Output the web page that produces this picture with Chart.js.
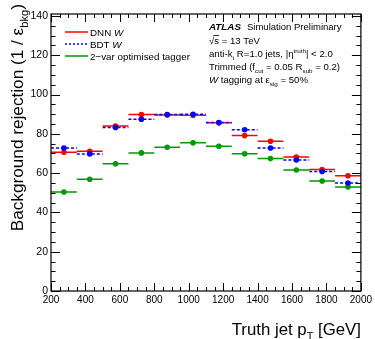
<!DOCTYPE html>
<html>
<head>
<meta charset="utf-8">
<script src="https://cdn.jsdelivr.net/npm/chart.js@4.4.1/dist/chart.umd.min.js"></script>
<style>
  html, body { margin: 0; padding: 0; background: #fff; }
  #wrap { width: 375px; height: 339px; }
</style>
</head>
<body>
<div id="wrap"><canvas id="chart" width="375" height="339"></canvas></div>
<script>
// ─── Data ───────────────────────────────
const binEdges = [200, 350, 500, 650, 800, 950, 1100, 1250, 1400, 1550, 1700, 1850, 2000];
const dnnW   = [70.6, 71.1, 84.0, 89.8, 89.6, 89.4, 85.6, 79.1, 76.2, 68.2, 61.8, 58.7];
const bdtW   = [72.8, 69.8, 83.2, 87.4, 89.8, 90.0, 85.8, 82.1, 72.8, 66.7, 60.8, 55.0];
const twoVar = [50.4, 56.9, 64.8, 70.3, 73.2, 75.4, 73.7, 69.9, 67.4, 61.6, 56.0, 53.0];

const xTickLabels = [200, 400, 600, 800, 1000, 1200, 1400, 1600, 1800, 2000];
const yTickLabels = [0, 20, 40, 60, 80, 100, 120, 140];

const RED = "#ff0000";
const BLUE = "#0000ff";
const GREEN = "#009900";
const FONT = "'Liberation Sans', Arial, Helvetica, sans-serif";

// horizontal bin segments, broken between bins
function stepData(values) {
  return values.flatMap((v, i) => [
    { x: binEdges[i], y: v },
    { x: binEdges[i + 1], y: v },
    { x: binEdges[i + 1], y: null },
  ]);
}
function centerData(values) {
  return values.map((v, i) => ({ x: (binEdges[i] + binEdges[i + 1]) / 2, y: v }));
}

// ─── Rich text helper (italic / sub / sup) ──
function richWidth(ctx, parts, size) {
  let w = 0;
  parts.forEach(p => {
    const s = p.sub || p.sup ? size * 0.65 : size;
    ctx.font = `${p.style || ""} ${s}px ${FONT}`;
    w += ctx.measureText(p.t).width;
  });
  return w;
}
function drawRich(ctx, x, y, parts, size) {
  parts.forEach(p => {
    const s = p.sub || p.sup ? size * 0.65 : size;
    ctx.font = `${p.style || ""} ${s}px ${FONT}`;
    const dy = p.sub ? size * 0.3 : p.sup ? -size * 0.4 : 0;
    ctx.fillText(p.t, x, y + dy);
    x += ctx.measureText(p.t).width;
  });
  return x;
}

// ─── ROOT style frame, ticks, legend, labels ──
const atlasPlugin = {
  id: "atlasFrame",
  afterDraw(chart) {
    const ctx = chart.ctx;
    const { left, right, top, bottom } = chart.chartArea;
    const xs = chart.scales.x;
    const ys = chart.scales.y;

    ctx.save();
    ctx.strokeStyle = "#000";
    ctx.lineWidth = 1.2;
    ctx.strokeRect(left, top, right - left, bottom - top);

    ctx.lineWidth = 1;
    ctx.beginPath();
    for (let v = xs.min; v <= xs.max; v += 50) {
      const px = Math.round(xs.getPixelForValue(v)) + 0.5;
      const len = v % 200 === 0 ? 8 : 4;
      ctx.moveTo(px, bottom); ctx.lineTo(px, bottom - len);
      ctx.moveTo(px, top); ctx.lineTo(px, top + len);
    }
    for (let v = 0; v <= ys.max; v += 5) {
      const py = Math.round(ys.getPixelForValue(v)) + 0.5;
      const len = v % 20 === 0 ? 9 : 4.5;
      ctx.moveTo(left, py); ctx.lineTo(left + len, py);
      ctx.moveTo(right, py); ctx.lineTo(right - len, py);
    }
    ctx.stroke();

    // legend
    const legend = [
      { color: RED, dash: [], parts: [{ t: "DNN " }, { t: "W", style: "italic" }] },
      { color: BLUE, dash: [2, 2], parts: [{ t: "BDT " }, { t: "W", style: "italic" }] },
      { color: GREEN, dash: [], parts: [{ t: "2\u2212var optimised tagger" }] },
    ];
    ctx.fillStyle = "#000";
    ctx.textBaseline = "alphabetic";
    legend.forEach((l, i) => {
      const y = 32 + i * 12;
      ctx.strokeStyle = l.color;
      ctx.lineWidth = 1.5;
      ctx.setLineDash(l.dash);
      ctx.beginPath();
      ctx.moveTo(65, y); ctx.lineTo(88, y);
      ctx.stroke();
      ctx.setLineDash([]);
      drawRich(ctx, 90, y + 4, l.parts, 9.8);
    });

    // ATLAS label block
    const ax = 209, fs = 9.6;
    ctx.font = `italic bold 9.8px ${FONT}`;
    ctx.fillText("ATLAS", ax, 30);
    ctx.font = `9.5px ${FONT}`;
    ctx.fillText("Simulation Preliminary", 247, 30);

    ctx.font = `${fs}px ${FONT}`;
    const rootW = ctx.measureText("\u221A").width;
    ctx.fillText("\u221As = 13 TeV", ax, 44);
    const sW = ctx.measureText("s").width;
    ctx.strokeStyle = "#000";
    ctx.lineWidth = 0.8;
    ctx.beginPath();
    ctx.moveTo(ax + rootW - 1, 35.5); ctx.lineTo(ax + rootW + sW, 35.5);
    ctx.stroke();

    drawRich(ctx, ax, 57, [
      { t: "anti-k" }, { t: "t", sub: true }, { t: " R=1.0 jets, |\u03B7" },
      { t: "truth", sup: true }, { t: "| < 2.0" },
    ], fs);
    drawRich(ctx, ax, 70, [
      { t: "Trimmed (f" }, { t: "cut", sub: true }, { t: " = 0.05 R" },
      { t: "sub", sub: true }, { t: " = 0.2)" },
    ], fs);
    drawRich(ctx, ax, 83, [
      { t: "W", style: "italic" }, { t: " tagging at \u03B5" }, { t: "sig", sub: true },
      { t: " = 50%" },
    ], fs);

    // x title, right aligned
    const xParts = [{ t: "Truth jet p" }, { t: "T", sub: true }, { t: " [GeV]" }];
    const xw = richWidth(ctx, xParts, 16.8);
    drawRich(ctx, right - xw, 335, xParts, 16.8);

    // y title, rotated, right aligned to top
    const yParts = [{ t: "Background rejection (1 / \u03B5" }, { t: "bkg", sub: true }, { t: ")" }];
    const yw = richWidth(ctx, yParts, 17.2);
    ctx.translate(22.5, 4);
    ctx.rotate(-Math.PI / 2);
    drawRich(ctx, -yw, 0, yParts, 17.2);
    ctx.restore();
  },
};

// ─── Chart ──────────────────────────────
const lineDs = (label, values, color, dash) => ({
  label, data: stepData(values), borderColor: color, borderWidth: 1.5,
  borderDash: dash, pointRadius: 0, spanGaps: false, tension: 0, fill: false,
});
const pointDs = (label, values, color) => ({
  label, data: centerData(values), showLine: false, pointRadius: 2.8,
  pointBackgroundColor: color, pointBorderColor: color, pointBorderWidth: 0,
});

new Chart(document.getElementById("chart"), {
  type: "line",
  data: {
    datasets: [
      pointDs("BDT W pts", bdtW, BLUE),
      pointDs("DNN W pts", dnnW, RED),
      pointDs("2-var pts", twoVar, GREEN),
      lineDs("BDT W", bdtW, BLUE, [3, 2]),
      lineDs("DNN W", dnnW, RED, []),
      lineDs("2-var", twoVar, GREEN, []),
    ],
  },
  plugins: [atlasPlugin],
  options: {
    responsive: false,
    animation: false,
    devicePixelRatio: 1,
    layout: { padding: { top: 14, right: 14, left: 0, bottom: 0 } },
    plugins: { legend: { display: false }, tooltip: { enabled: false } },
    scales: {
      x: {
        type: "linear", min: 200, max: 2000,
        afterBuildTicks: s => { s.ticks = xTickLabels.map(v => ({ value: v })); },
        afterFit: s => { s.height = 48; },
        grid: { display: false, drawTicks: false },
        border: { display: false },
        ticks: { color: "#000", font: { family: FONT, size: 10 }, padding: 3, maxRotation: 0, autoSkip: false, callback: v => String(v) },
      },
      y: {
        type: "linear", min: 0, max: 141,
        afterBuildTicks: s => { s.ticks = yTickLabels.map(v => ({ value: v })); },
        afterFit: s => { s.width = 51; },
        grid: { display: false, drawTicks: false },
        border: { display: false },
        ticks: { color: "#000", font: { family: FONT, size: 10.5 }, padding: 3, callback: v => String(v) },
      },
    },
  },
});
</script>
</body>
</html>
